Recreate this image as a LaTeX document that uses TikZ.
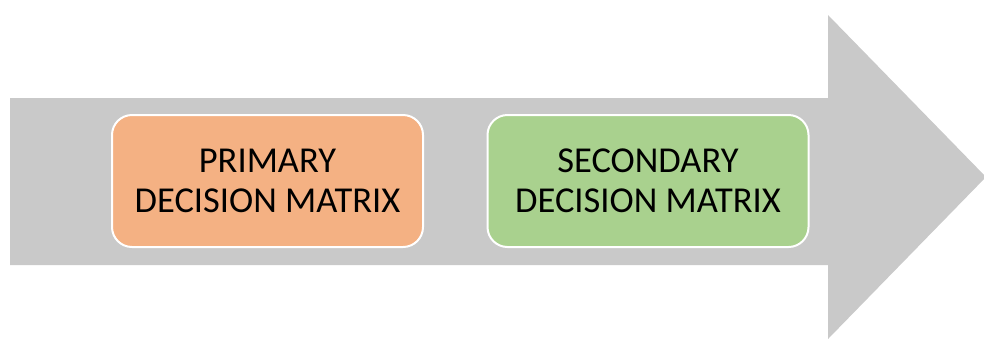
\documentclass[tikz,border=0pt]{standalone}
\usepackage{fontspec}
\setmainfont{Carlito}
\usetikzlibrary{positioning}
\definecolor{arrowgray}{HTML}{C9C9C9}
\definecolor{primfill}{HTML}{F4B183}
\definecolor{secfill}{HTML}{A9D18E}

\begin{document}
\begin{tikzpicture}[x=1pt,y=-1pt,
  matrixbox/.style={draw=white,line width=2pt,rounded corners=20pt,
    minimum height=132pt,align=center,
    font=\fontsize{36.5}{40}\selectfont}]
\useasboundingbox (0,0) rectangle (984,338);
% big arrow behind the boxes
\fill[arrowgray] (10,98) -- (828,98) -- (828,15) -- (986,177)
  -- (828,339) -- (828,265) -- (10,265) -- cycle;
\node[matrixbox,fill=primfill,minimum width=311pt] (Prim) at (267.5,181) {PRIMARY\\DECISION MATRIX};
\node[matrixbox,fill=secfill,minimum width=321pt,right=62.5pt of Prim] (Sec) {SECONDARY\\DECISION MATRIX};
\end{tikzpicture}
\end{document}
